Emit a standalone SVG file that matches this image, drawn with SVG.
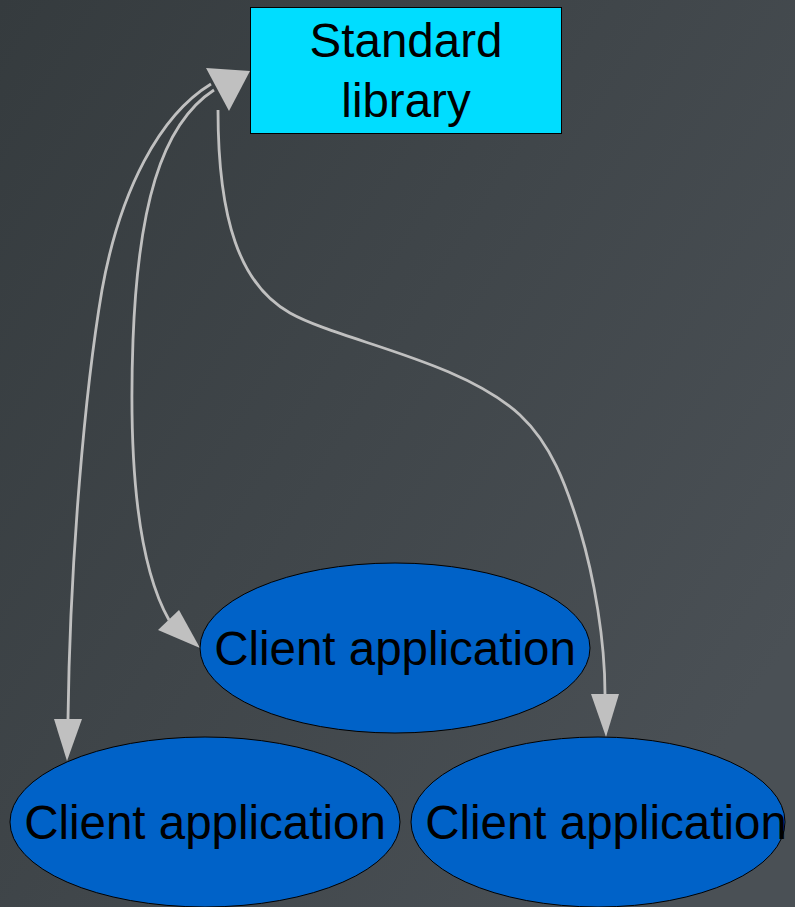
<svg xmlns="http://www.w3.org/2000/svg" width="795" height="907" viewBox="0 0 795 907">
  <defs>
    <linearGradient id="bg" x1="0" y1="0" x2="1" y2="0.7">
      <stop offset="0" stop-color="#353b3e"/>
      <stop offset="1" stop-color="#4a5055"/>
    </linearGradient>
    <style>
      .edge { fill: none; stroke: #c0c0c0; stroke-width: 2.8; }
      .head { fill: #c0c0c0; stroke: none; }
      .label { font-family: "Liberation Sans", Arial, sans-serif; font-size: 47.5px; fill: #000; text-anchor: middle; }
      .client { fill: #0062c8; stroke: #000; stroke-width: 1; }
      .lib { fill: #00ddff; stroke: #000; stroke-width: 1; }
    </style>
  </defs>

  <rect x="0" y="0" width="795" height="907" fill="url(#bg)"/>

  <g id="connectors">
    <path class="edge" d="M211,84 C160,115 120,190 102,290 C85,390 70,560 68,719"/>
    <path class="edge" d="M214,90 C160,125 138,210 133,340 C129,450 135,560 169,620"/>
    <path class="edge" d="M218,110 C218,220 240,285 290,313 C340,341 460,360 520,415 C551,444 566,484 580,530 C594,577 605,640 605,694"/>
    <polygon class="head" points="206,68 250,71 229,111"/>
    <polygon class="head" points="158,630 179,610 200,648"/>
    <polygon class="head" points="54,719 82,719 67,761"/>
    <polygon class="head" points="591,694 619,694 606,737"/>
  </g>

  <g id="standard-library">
    <rect class="lib" x="250.5" y="7.5" width="311" height="126"/>
    <text class="label" x="406" y="57">Standard</text>
    <text class="label" x="406" y="117">library</text>
  </g>

  <g id="client-middle">
    <ellipse class="client" cx="395" cy="648" rx="195" ry="85"/>
    <text class="label" x="395" y="665">Client application</text>
  </g>

  <g id="client-left">
    <ellipse class="client" cx="205" cy="822" rx="195" ry="85"/>
    <text class="label" x="205" y="839">Client application</text>
  </g>

  <g id="client-right">
    <ellipse class="client" cx="598" cy="822" rx="187" ry="85"/>
    <text class="label" x="606" y="839">Client application</text>
  </g>
</svg>
